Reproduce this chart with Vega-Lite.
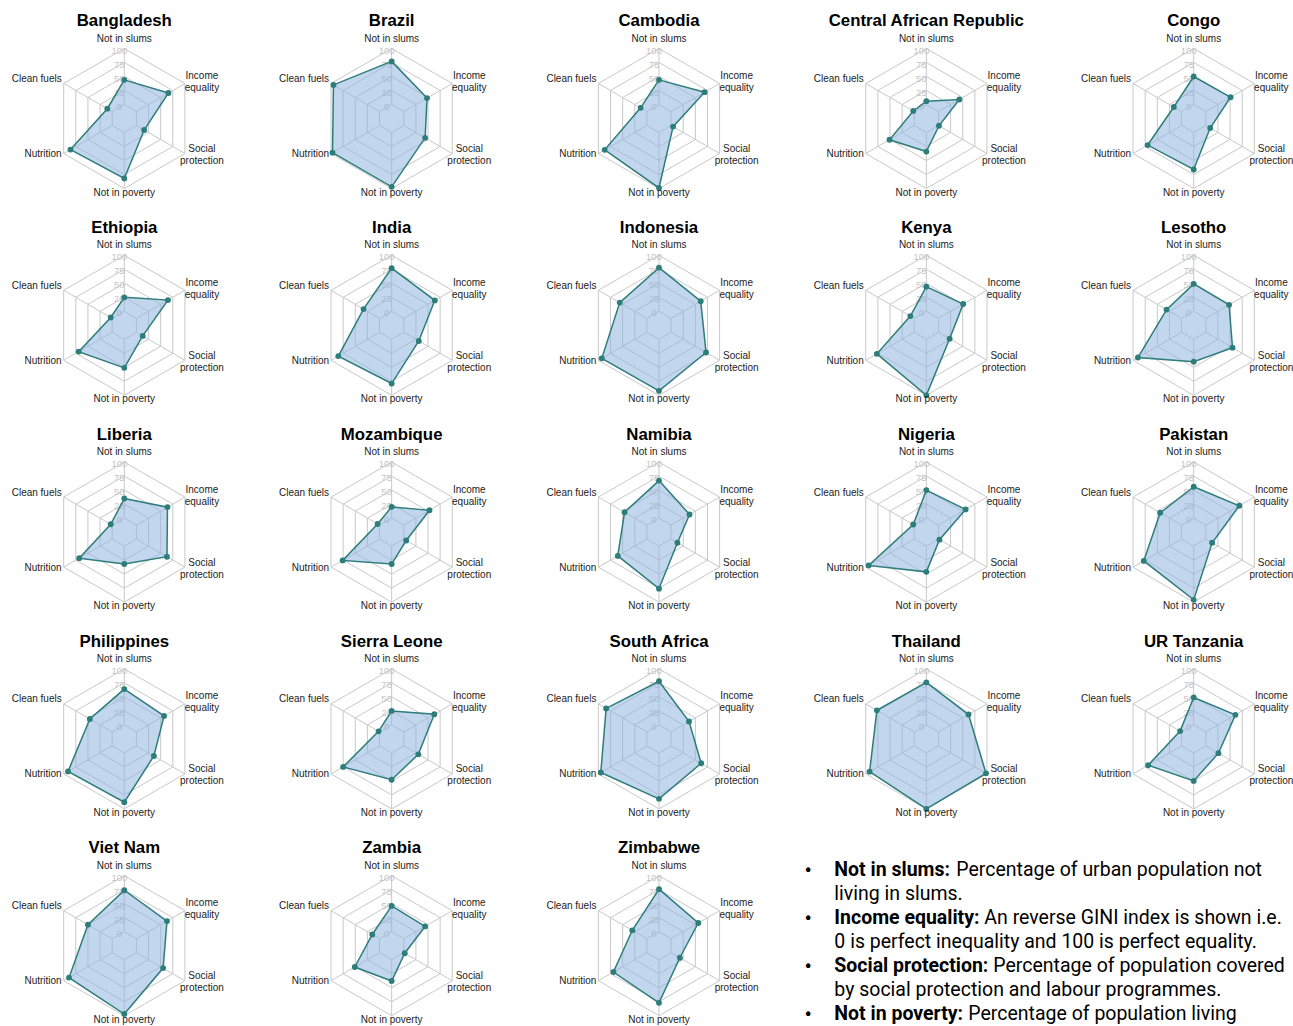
{
  "$schema": "https://vega.github.io/schema/vega-lite/v6.json",
  "padding": {"left": 1.8, "top": 12.5, "right": 0, "bottom": 0},
  "background": "white",
  "config": {"view": {"stroke": null}, "font": "Liberation Sans"},
  "datasets": {
    "axes": [
      {"indicator": "Not in slums", "k": 0, "label": ["Not in slums"], "levels": [0, 25, 50, 75, 100]},
      {"indicator": "Income equality", "k": 1, "label": ["Income", "equality"], "levels": [0, 25, 50, 75, 100]},
      {"indicator": "Social protection", "k": 2, "label": ["Social", "protection"], "levels": [0, 25, 50, 75, 100]},
      {"indicator": "Not in poverty", "k": 3, "label": ["Not in poverty"], "levels": [0, 25, 50, 75, 100]},
      {"indicator": "Nutrition", "k": 4, "label": ["Nutrition"], "levels": [0, 25, 50, 75, 100]},
      {"indicator": "Clean fuels", "k": 5, "label": ["Clean fuels"], "levels": [0, 25, 50, 75, 100]}
    ]
  },
  "data": {"values": [
    {"country": "Bangladesh", "indicator": "Not in slums", "value": 44},
    {"country": "Bangladesh", "indicator": "Income equality", "value": 66},
    {"country": "Bangladesh", "indicator": "Social protection", "value": 16},
    {"country": "Bangladesh", "indicator": "Not in poverty", "value": 82},
    {"country": "Bangladesh", "indicator": "Nutrition", "value": 86},
    {"country": "Bangladesh", "indicator": "Clean fuels", "value": 10},
    {"country": "Brazil", "indicator": "Not in slums", "value": 77},
    {"country": "Brazil", "indicator": "Income equality", "value": 48},
    {"country": "Brazil", "indicator": "Social protection", "value": 44},
    {"country": "Brazil", "indicator": "Not in poverty", "value": 97},
    {"country": "Brazil", "indicator": "Nutrition", "value": 97},
    {"country": "Brazil", "indicator": "Clean fuels", "value": 95},
    {"country": "Cambodia", "indicator": "Not in slums", "value": 44},
    {"country": "Cambodia", "indicator": "Income equality", "value": 69},
    {"country": "Cambodia", "indicator": "Social protection", "value": 4},
    {"country": "Cambodia", "indicator": "Not in poverty", "value": 99},
    {"country": "Cambodia", "indicator": "Nutrition", "value": 87},
    {"country": "Cambodia", "indicator": "Clean fuels", "value": 13},
    {"country": "Central African Republic", "indicator": "Not in slums", "value": 6},
    {"country": "Central African Republic", "indicator": "Income equality", "value": 43},
    {"country": "Central African Republic", "indicator": "Social protection", "value": 1},
    {"country": "Central African Republic", "indicator": "Not in poverty", "value": 34},
    {"country": "Central African Republic", "indicator": "Nutrition", "value": 51},
    {"country": "Central African Republic", "indicator": "Clean fuels", "value": 2},
    {"country": "Congo", "indicator": "Not in slums", "value": 50},
    {"country": "Congo", "indicator": "Income equality", "value": 51},
    {"country": "Congo", "indicator": "Social protection", "value": 9},
    {"country": "Congo", "indicator": "Not in poverty", "value": 66},
    {"country": "Congo", "indicator": "Nutrition", "value": 70},
    {"country": "Congo", "indicator": "Clean fuels", "value": 16},
    {"country": "Ethiopia", "indicator": "Not in slums", "value": 25},
    {"country": "Ethiopia", "indicator": "Income equality", "value": 65},
    {"country": "Ethiopia", "indicator": "Social protection", "value": 13},
    {"country": "Ethiopia", "indicator": "Not in poverty", "value": 51},
    {"country": "Ethiopia", "indicator": "Nutrition", "value": 69},
    {"country": "Ethiopia", "indicator": "Clean fuels", "value": 3},
    {"country": "India", "indicator": "Not in slums", "value": 77},
    {"country": "India", "indicator": "Income equality", "value": 64},
    {"country": "India", "indicator": "Social protection", "value": 31},
    {"country": "India", "indicator": "Not in poverty", "value": 79},
    {"country": "India", "indicator": "Nutrition", "value": 85},
    {"country": "India", "indicator": "Clean fuels", "value": 33},
    {"country": "Indonesia", "indicator": "Not in slums", "value": 78},
    {"country": "Indonesia", "indicator": "Income equality", "value": 61},
    {"country": "Indonesia", "indicator": "Social protection", "value": 72},
    {"country": "Indonesia", "indicator": "Not in poverty", "value": 92},
    {"country": "Indonesia", "indicator": "Nutrition", "value": 93},
    {"country": "Indonesia", "indicator": "Clean fuels", "value": 56},
    {"country": "Kenya", "indicator": "Not in slums", "value": 44},
    {"country": "Kenya", "indicator": "Income equality", "value": 51},
    {"country": "Kenya", "indicator": "Social protection", "value": 23},
    {"country": "Kenya", "indicator": "Not in poverty", "value": 100},
    {"country": "Kenya", "indicator": "Nutrition", "value": 77},
    {"country": "Kenya", "indicator": "Clean fuels", "value": 8},
    {"country": "Lesotho", "indicator": "Not in slums", "value": 49},
    {"country": "Lesotho", "indicator": "Income equality", "value": 48},
    {"country": "Lesotho", "indicator": "Social protection", "value": 55},
    {"country": "Lesotho", "indicator": "Not in poverty", "value": 40},
    {"country": "Lesotho", "indicator": "Nutrition", "value": 90},
    {"country": "Lesotho", "indicator": "Clean fuels", "value": 31},
    {"country": "Liberia", "indicator": "Not in slums", "value": 35},
    {"country": "Liberia", "indicator": "Income equality", "value": 64},
    {"country": "Liberia", "indicator": "Social protection", "value": 63},
    {"country": "Liberia", "indicator": "Not in poverty", "value": 32},
    {"country": "Liberia", "indicator": "Nutrition", "value": 68},
    {"country": "Liberia", "indicator": "Clean fuels", "value": 3},
    {"country": "Mozambique", "indicator": "Not in slums", "value": 20},
    {"country": "Mozambique", "indicator": "Income equality", "value": 53},
    {"country": "Mozambique", "indicator": "Social protection", "value": 5},
    {"country": "Mozambique", "indicator": "Not in poverty", "value": 32},
    {"country": "Mozambique", "indicator": "Nutrition", "value": 76},
    {"country": "Mozambique", "indicator": "Clean fuels", "value": 4},
    {"country": "Namibia", "indicator": "Not in slums", "value": 67},
    {"country": "Namibia", "indicator": "Income equality", "value": 38},
    {"country": "Namibia", "indicator": "Social protection", "value": 13},
    {"country": "Namibia", "indicator": "Not in poverty", "value": 76},
    {"country": "Namibia", "indicator": "Nutrition", "value": 60},
    {"country": "Namibia", "indicator": "Clean fuels", "value": 46},
    {"country": "Nigeria", "indicator": "Not in slums", "value": 50},
    {"country": "Nigeria", "indicator": "Income equality", "value": 56},
    {"country": "Nigeria", "indicator": "Social protection", "value": 2},
    {"country": "Nigeria", "indicator": "Not in poverty", "value": 46},
    {"country": "Nigeria", "indicator": "Nutrition", "value": 94},
    {"country": "Nigeria", "indicator": "Clean fuels", "value": 2},
    {"country": "Pakistan", "indicator": "Not in slums", "value": 56},
    {"country": "Pakistan", "indicator": "Income equality", "value": 69},
    {"country": "Pakistan", "indicator": "Social protection", "value": 13},
    {"country": "Pakistan", "indicator": "Not in poverty", "value": 96},
    {"country": "Pakistan", "indicator": "Nutrition", "value": 78},
    {"country": "Pakistan", "indicator": "Clean fuels", "value": 44},
    {"country": "Philippines", "indicator": "Not in slums", "value": 64},
    {"country": "Philippines", "indicator": "Income equality", "value": 57},
    {"country": "Philippines", "indicator": "Social protection", "value": 36},
    {"country": "Philippines", "indicator": "Not in poverty", "value": 88},
    {"country": "Philippines", "indicator": "Nutrition", "value": 91},
    {"country": "Philippines", "indicator": "Clean fuels", "value": 46},
    {"country": "Sierra Leone", "indicator": "Not in slums", "value": 25},
    {"country": "Sierra Leone", "indicator": "Income equality", "value": 63},
    {"country": "Sierra Leone", "indicator": "Social protection", "value": 30},
    {"country": "Sierra Leone", "indicator": "Not in poverty", "value": 48},
    {"country": "Sierra Leone", "indicator": "Nutrition", "value": 75},
    {"country": "Sierra Leone", "indicator": "Clean fuels", "value": 2},
    {"country": "South Africa", "indicator": "Not in slums", "value": 78},
    {"country": "South Africa", "indicator": "Income equality", "value": 37},
    {"country": "South Africa", "indicator": "Social protection", "value": 62},
    {"country": "South Africa", "indicator": "Not in poverty", "value": 82},
    {"country": "South Africa", "indicator": "Nutrition", "value": 95},
    {"country": "South Africa", "indicator": "Clean fuels", "value": 84},
    {"country": "Thailand", "indicator": "Not in slums", "value": 76},
    {"country": "Thailand", "indicator": "Income equality", "value": 62},
    {"country": "Thailand", "indicator": "Social protection", "value": 98},
    {"country": "Thailand", "indicator": "Not in poverty", "value": 100},
    {"country": "Thailand", "indicator": "Nutrition", "value": 92},
    {"country": "Thailand", "indicator": "Clean fuels", "value": 77},
    {"country": "UR Tanzania", "indicator": "Not in slums", "value": 49},
    {"country": "UR Tanzania", "indicator": "Income equality", "value": 61},
    {"country": "UR Tanzania", "indicator": "Social protection", "value": 26},
    {"country": "UR Tanzania", "indicator": "Not in poverty", "value": 50},
    {"country": "UR Tanzania", "indicator": "Nutrition", "value": 69},
    {"country": "UR Tanzania", "indicator": "Clean fuels", "value": 3},
    {"country": "Viet Nam", "indicator": "Not in slums", "value": 74},
    {"country": "Viet Nam", "indicator": "Income equality", "value": 63},
    {"country": "Viet Nam", "indicator": "Social protection", "value": 55},
    {"country": "Viet Nam", "indicator": "Not in poverty", "value": 97},
    {"country": "Viet Nam", "indicator": "Nutrition", "value": 89},
    {"country": "Viet Nam", "indicator": "Clean fuels", "value": 50},
    {"country": "Zambia", "indicator": "Not in slums", "value": 46},
    {"country": "Zambia", "indicator": "Income equality", "value": 44},
    {"country": "Zambia", "indicator": "Social protection", "value": 2},
    {"country": "Zambia", "indicator": "Not in poverty", "value": 38},
    {"country": "Zambia", "indicator": "Nutrition", "value": 51},
    {"country": "Zambia", "indicator": "Clean fuels", "value": 15},
    {"country": "Zimbabwe", "indicator": "Not in slums", "value": 76},
    {"country": "Zimbabwe", "indicator": "Income equality", "value": 56},
    {"country": "Zimbabwe", "indicator": "Social protection", "value": 18},
    {"country": "Zimbabwe", "indicator": "Not in poverty", "value": 77},
    {"country": "Zimbabwe", "indicator": "Nutrition", "value": 69},
    {"country": "Zimbabwe", "indicator": "Clean fuels", "value": 30},
    {"country": "zNotes", "line": 1, "bullet": "•", "bold": "Not in slums:", "text": "Percentage of urban population not"},
    {"country": "zNotes", "line": 2, "text": "living in slums."},
    {"country": "zNotes", "line": 3, "bullet": "•", "bold": "Income equality:", "text": "An reverse GINI index is shown i.e."},
    {"country": "zNotes", "line": 4, "text": "0 is perfect inequality and 100 is perfect equality."},
    {"country": "zNotes", "line": 5, "bullet": "•", "bold": "Social protection:", "text": "Percentage of population covered"},
    {"country": "zNotes", "line": 6, "text": "by social protection and labour programmes."},
    {"country": "zNotes", "line": 7, "bullet": "•", "bold": "Not in poverty:", "text": "Percentage of population living"}
  ]},
  "transform": [
    {"lookup": "indicator", "from": {"data": {"name": "axes"}, "key": "indicator", "fields": ["k", "label", "levels"]}}
  ],
  "facet": {
    "field": "country", "type": "nominal",
    "header": {"title": null, "labelFontSize": 16.8, "labelFontWeight": "bold", "labelColor": "#000000", "labelFont": "Liberation Sans", "labelPadding": 3.5, "labelExpr": "datum.value == 'zNotes' ? '' : datum.value"}
  },
  "columns": 5,
  "spacing": {"column": 22.35, "row": 46.8},
  "bounds": "flush",
  "spec": {
    "width": 245,
    "height": 160,
    "resolve": {"scale": {"y": "independent"}},
    "layer": [
      {
        "transform": [
          {"filter": "isValid(datum.k)"},
          {"flatten": ["levels"], "as": ["level"]},
          {"calculate": "(20 + 0.8 * datum.level) * sin(datum.k * PI / 3)", "as": "gx"},
          {"calculate": "(20 + 0.8 * datum.level) * cos(datum.k * PI / 3)", "as": "gy"}
        ],
        "mark": {"type": "line", "interpolate": "linear-closed", "stroke": "#c8c8c8", "strokeWidth": 1},
        "encoding": {
          "x": {"field": "gx", "type": "quantitative", "scale": {"domain": [-175, 175], "nice": false, "zero": false}, "axis": null},
          "y": {"field": "gy", "type": "quantitative", "scale": {"domain": [-114.2857, 114.2857], "nice": false, "zero": false}, "axis": null},
          "detail": {"field": "level", "type": "nominal"},
          "order": {"field": "k", "type": "quantitative"}
        }
      },
      {
        "transform": [
          {"filter": "isValid(datum.k)"},
          {"calculate": "20 * sin(datum.k * PI / 3)", "as": "sx"},
          {"calculate": "20 * cos(datum.k * PI / 3)", "as": "sy"},
          {"calculate": "100 * sin(datum.k * PI / 3)", "as": "sx2"},
          {"calculate": "100 * cos(datum.k * PI / 3)", "as": "sy2"}
        ],
        "mark": {"type": "rule", "stroke": "#c8c8c8", "strokeWidth": 1},
        "encoding": {
          "x": {"field": "sx", "type": "quantitative", "scale": {"domain": [-175, 175], "nice": false, "zero": false}, "axis": null},
          "y": {"field": "sy", "type": "quantitative", "scale": {"domain": [-114.2857, 114.2857], "nice": false, "zero": false}, "axis": null},
          "x2": {"field": "sx2"},
          "y2": {"field": "sy2"}
        }
      },
      {
        "transform": [
          {"filter": "datum.k === 0"},
          {"flatten": ["levels"], "as": ["level"]},
          {"calculate": "20 + 0.8 * datum.level", "as": "ty"}
        ],
        "mark": {"type": "text", "fontSize": 9.5, "fill": "#c4c4c4", "align": "center", "baseline": "middle", "dx": -5, "dy": 2},
        "encoding": {
          "x": {"datum": 0, "type": "quantitative", "scale": {"domain": [-175, 175], "nice": false, "zero": false}, "axis": null},
          "y": {"field": "ty", "type": "quantitative", "scale": {"domain": [-114.2857, 114.2857], "nice": false, "zero": false}, "axis": null},
          "text": {"field": "level", "type": "quantitative"}
        }
      },
      {
        "transform": [
          {"filter": "isValid(datum.k)"},
          {"calculate": "(20 + 0.8 * datum.value) * sin(datum.k * PI / 3)", "as": "px"},
          {"calculate": "(20 + 0.8 * datum.value) * cos(datum.k * PI / 3)", "as": "py"}
        ],
        "mark": {"type": "line", "interpolate": "linear-closed", "fill": "#8fb4e0", "fillOpacity": 0.55, "stroke": "#2d7d7a", "strokeWidth": 1.5},
        "encoding": {
          "x": {"field": "px", "type": "quantitative", "scale": {"domain": [-175, 175], "nice": false, "zero": false}, "axis": null},
          "y": {"field": "py", "type": "quantitative", "scale": {"domain": [-114.2857, 114.2857], "nice": false, "zero": false}, "axis": null},
          "order": {"field": "k", "type": "quantitative"}
        }
      },
      {
        "transform": [
          {"filter": "isValid(datum.k)"},
          {"calculate": "(20 + 0.8 * datum.value) * sin(datum.k * PI / 3)", "as": "px"},
          {"calculate": "(20 + 0.8 * datum.value) * cos(datum.k * PI / 3)", "as": "py"}
        ],
        "mark": {"type": "circle", "size": 34, "fill": "#2d7d7a", "opacity": 1},
        "encoding": {
          "x": {"field": "px", "type": "quantitative", "scale": {"domain": [-175, 175], "nice": false, "zero": false}, "axis": null},
          "y": {"field": "py", "type": "quantitative", "scale": {"domain": [-114.2857, 114.2857], "nice": false, "zero": false}, "axis": null}
        }
      },
      {
        "transform": [
          {"filter": "datum.k === 0"},
          {"calculate": "100 * sin(datum.k * PI / 3)", "as": "lx"},
          {"calculate": "100 * cos(datum.k * PI / 3)", "as": "ly"}
        ],
        "mark": {"type": "text", "fontSize": 10, "fill": "#222222", "align": "center", "baseline": "bottom", "dy": -5},
        "encoding": {
          "x": {"field": "lx", "type": "quantitative", "scale": {"domain": [-175, 175], "nice": false, "zero": false}, "axis": null},
          "y": {"field": "ly", "type": "quantitative", "scale": {"domain": [-114.2857, 114.2857], "nice": false, "zero": false}, "axis": null},
          "text": {"field": "label", "type": "nominal"}
        }
      },
      {
        "transform": [
          {"filter": "datum.k === 3"},
          {"calculate": "100 * sin(datum.k * PI / 3)", "as": "lx"},
          {"calculate": "100 * cos(datum.k * PI / 3)", "as": "ly"}
        ],
        "mark": {"type": "text", "fontSize": 10, "fill": "#222222", "align": "center", "baseline": "top", "dy": -1},
        "encoding": {
          "x": {"field": "lx", "type": "quantitative", "scale": {"domain": [-175, 175], "nice": false, "zero": false}, "axis": null},
          "y": {"field": "ly", "type": "quantitative", "scale": {"domain": [-114.2857, 114.2857], "nice": false, "zero": false}, "axis": null},
          "text": {"field": "label", "type": "nominal"}
        }
      },
      {
        "transform": [
          {"filter": "datum.k === 1"},
          {"calculate": "100 * sin(datum.k * PI / 3)", "as": "lx"},
          {"calculate": "100 * cos(datum.k * PI / 3)", "as": "ly"}
        ],
        "mark": {"type": "text", "fontSize": 10, "fill": "#222222", "align": "center", "baseline": "middle", "dx": 17, "dy": -7.5, "lineHeight": 12},
        "encoding": {
          "x": {"field": "lx", "type": "quantitative", "scale": {"domain": [-175, 175], "nice": false, "zero": false}, "axis": null},
          "y": {"field": "ly", "type": "quantitative", "scale": {"domain": [-114.2857, 114.2857], "nice": false, "zero": false}, "axis": null},
          "text": {"field": "label", "type": "nominal"}
        }
      },
      {
        "transform": [
          {"filter": "datum.k === 2"},
          {"calculate": "100 * sin(datum.k * PI / 3)", "as": "lx"},
          {"calculate": "100 * cos(datum.k * PI / 3)", "as": "ly"}
        ],
        "mark": {"type": "text", "fontSize": 10, "fill": "#222222", "align": "center", "baseline": "middle", "dx": 17, "dy": -4.5, "lineHeight": 12},
        "encoding": {
          "x": {"field": "lx", "type": "quantitative", "scale": {"domain": [-175, 175], "nice": false, "zero": false}, "axis": null},
          "y": {"field": "ly", "type": "quantitative", "scale": {"domain": [-114.2857, 114.2857], "nice": false, "zero": false}, "axis": null},
          "text": {"field": "label", "type": "nominal"}
        }
      },
      {
        "transform": [
          {"filter": "datum.k === 4"},
          {"calculate": "100 * sin(datum.k * PI / 3)", "as": "lx"},
          {"calculate": "100 * cos(datum.k * PI / 3)", "as": "ly"}
        ],
        "mark": {"type": "text", "fontSize": 10, "fill": "#222222", "align": "right", "baseline": "middle", "dx": -2, "dy": 0.5},
        "encoding": {
          "x": {"field": "lx", "type": "quantitative", "scale": {"domain": [-175, 175], "nice": false, "zero": false}, "axis": null},
          "y": {"field": "ly", "type": "quantitative", "scale": {"domain": [-114.2857, 114.2857], "nice": false, "zero": false}, "axis": null},
          "text": {"field": "label", "type": "nominal"}
        }
      },
      {
        "transform": [
          {"filter": "datum.k === 5"},
          {"calculate": "100 * sin(datum.k * PI / 3)", "as": "lx"},
          {"calculate": "100 * cos(datum.k * PI / 3)", "as": "ly"}
        ],
        "mark": {"type": "text", "fontSize": 10, "fill": "#222222", "align": "right", "baseline": "middle", "dx": -2, "dy": -4.5},
        "encoding": {
          "x": {"field": "lx", "type": "quantitative", "scale": {"domain": [-175, 175], "nice": false, "zero": false}, "axis": null},
          "y": {"field": "ly", "type": "quantitative", "scale": {"domain": [-114.2857, 114.2857], "nice": false, "zero": false}, "axis": null},
          "text": {"field": "label", "type": "nominal"}
        }
      },
      {
        "transform": [{"filter": "isValid(datum.bullet)"}],
        "mark": {"type": "text", "font": "Roboto", "fontSize": 22, "fill": "#000000", "align": "center", "baseline": "middle", "dy": 1},
        "encoding": {
          "x": {"datum": -168.6, "type": "quantitative", "scale": {"domain": [-175, 175], "nice": false, "zero": false}, "axis": null},
          "y": {"field": "line", "type": "quantitative", "scale": {"domain": [0.821, 7.488], "reverse": true, "nice": false, "zero": false}, "axis": null},
          "text": {"field": "bullet", "type": "nominal"}
        }
      },
      {
        "transform": [{"filter": "isValid(datum.bold)"}],
        "mark": {"type": "text", "font": "Roboto", "fontSize": 19.5, "fontWeight": "bold", "fill": "#000000", "align": "left", "baseline": "middle"},
        "encoding": {
          "x": {"datum": -131.4, "type": "quantitative", "scale": {"domain": [-175, 175], "nice": false, "zero": false}, "axis": null},
          "y": {"field": "line", "type": "quantitative", "scale": {"domain": [0.821, 7.488], "reverse": true, "nice": false, "zero": false}, "axis": null},
          "text": {"field": "bold", "type": "nominal"}
        }
      },
      {
        "transform": [{"filter": "datum.country === 'zNotes' && !isValid(datum.bold)"}],
        "mark": {"type": "text", "font": "Roboto", "fontSize": 19.5, "fill": "#000000", "align": "left", "baseline": "middle"},
        "encoding": {
          "x": {"datum": -131.4, "type": "quantitative", "scale": {"domain": [-175, 175], "nice": false, "zero": false}, "axis": null},
          "y": {"field": "line", "type": "quantitative", "scale": {"domain": [0.821, 7.488], "reverse": true, "nice": false, "zero": false}, "axis": null},
          "text": {"field": "text", "type": "nominal"}
        }
      },
      {
        "transform": [{"filter": "datum.country === 'zNotes' && datum.line === 1"}],
        "mark": {"type": "text", "font": "Roboto", "fontSize": 19.5, "fill": "#000000", "align": "left", "baseline": "middle", "dx": 122},
        "encoding": {
          "x": {"datum": -131.4, "type": "quantitative", "scale": {"domain": [-175, 175], "nice": false, "zero": false}, "axis": null},
          "y": {"field": "line", "type": "quantitative", "scale": {"domain": [0.821, 7.488], "reverse": true, "nice": false, "zero": false}, "axis": null},
          "text": {"field": "text", "type": "nominal"}
        }
      },
      {
        "transform": [{"filter": "datum.country === 'zNotes' && datum.line === 3"}],
        "mark": {"type": "text", "font": "Roboto", "fontSize": 19.5, "fill": "#000000", "align": "left", "baseline": "middle", "dx": 150},
        "encoding": {
          "x": {"datum": -131.4, "type": "quantitative", "scale": {"domain": [-175, 175], "nice": false, "zero": false}, "axis": null},
          "y": {"field": "line", "type": "quantitative", "scale": {"domain": [0.821, 7.488], "reverse": true, "nice": false, "zero": false}, "axis": null},
          "text": {"field": "text", "type": "nominal"}
        }
      },
      {
        "transform": [{"filter": "datum.country === 'zNotes' && datum.line === 5"}],
        "mark": {"type": "text", "font": "Roboto", "fontSize": 19.5, "fill": "#000000", "align": "left", "baseline": "middle", "dx": 159},
        "encoding": {
          "x": {"datum": -131.4, "type": "quantitative", "scale": {"domain": [-175, 175], "nice": false, "zero": false}, "axis": null},
          "y": {"field": "line", "type": "quantitative", "scale": {"domain": [0.821, 7.488], "reverse": true, "nice": false, "zero": false}, "axis": null},
          "text": {"field": "text", "type": "nominal"}
        }
      },
      {
        "transform": [{"filter": "datum.country === 'zNotes' && datum.line === 7"}],
        "mark": {"type": "text", "font": "Roboto", "fontSize": 19.5, "fill": "#000000", "align": "left", "baseline": "middle", "dx": 134},
        "encoding": {
          "x": {"datum": -131.4, "type": "quantitative", "scale": {"domain": [-175, 175], "nice": false, "zero": false}, "axis": null},
          "y": {"field": "line", "type": "quantitative", "scale": {"domain": [0.821, 7.488], "reverse": true, "nice": false, "zero": false}, "axis": null},
          "text": {"field": "text", "type": "nominal"}
        }
      }
    ]
  }
}
